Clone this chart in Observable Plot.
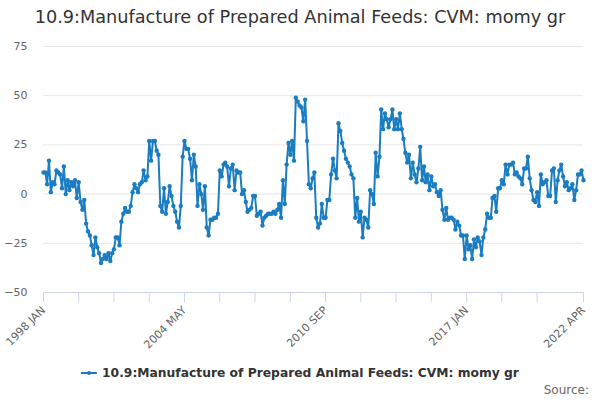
<!DOCTYPE html>
<html><head><meta charset="utf-8">
<script src="https://cdn.jsdelivr.net/npm/d3@7"></script>
<script src="https://cdn.jsdelivr.net/npm/@observablehq/plot@0.6"></script>
<style>
body{margin:0;background:#fff;font-family:"DejaVu Sans",sans-serif;}
#wrap{position:relative;width:600px;height:400px;overflow:hidden;background:#fff}
#chart{position:absolute;left:0;top:0}
#title{position:absolute;left:0;top:7px;width:600px;text-align:center;font-size:17.7px;color:#333;white-space:nowrap}
#legend{position:absolute;left:0;top:366px;width:600px;text-align:center;font-size:12.3px;font-weight:bold;color:#333;white-space:nowrap}
#legend svg{vertical-align:middle;margin-right:5px;position:relative;top:-1px}
#source{position:absolute;right:11px;top:383px;font-size:12px;color:#666}
</style></head><body>
<div id="wrap">
  <div id="chart"></div>
  <div id="title"></div>
  <div id="legend"></div>
  <div id="source">Source:</div>
</div>
<script>
const seriesName = "10.9:Manufacture of Prepared Animal Feeds: CVM: momy gr";
const lineColor = "#1a7cc1";

// monthly growth values (%), Jan 1998 – Apr 2022
const v1998 = [11, 11, 5, 17, 1, 6, 5, 12, 11, 10, 3, 14];
const v1999 = [0, 7, 2, 6, 4, 7, -2, 6, -4, -8, -3, -15];
const v2000 = [-19, -21, -26, -31, -22, -27, -30, -35, -33, -31, -33, -30];
const v2001 = [-34, -30, -28, -22, -22, -26, -14, -10, -7, -9, -9, -6];
const v2002 = [1, 5, 3, 1, 5, 6, 12, 7, 9, 27, 17, 27];
const v2003 = [27, 22, 20, -6, -9, 3, -10, -4, 4, -1, -6, -9];
const v2004 = [-14, -17, -6, 19, 27, 23, 23, 18, 7, 20, 14, -6];
const v2005 = [5, 0, -8, 4, -17, -21, -13, -13, -12, -12, -10, 12];
const v2006 = [9, 15, 16, 14, 4, 13, 15, 2, 12, 11, 11, 0];
const v2007 = [2, -4, -9, -8, -7, -1, -1, -11, -10, -9, -16, -12];
const v2008 = [-11, -10, -10, -10, -9, -10, -8, -5, -12, 7, -5, 15];
const v2009 = [26, 20, 27, 17, 49, 47, 45, 44, 37, 48, 27, 5];
const v2010 = [3, 8, 11, -12, -17, -15, -5, -12, -12, -3, -3, 10];
const v2011 = [18, 12, 8, 36, 32, 26, 22, 18, 16, 14, 10, 8];
const v2012 = [-12, -2, -14, -9, -22, -12, -13, -17, 2, 0, -5, 21];
const v2013 = [9, 19, 43, 33, 41, 38, 34, 38, 43, 33, 38, 33];
const v2014 = [41, 33, 28, 21, 16, 20, 8, 16, 10, 6, 13, 24];
const v2015 = [7, 14, 6, 10, 2, 9, 4, 5, 1, -1, 2, -8];
const v2016 = [-13, -7, -13, -12, -12, -13, -18, -14, -16, -21, -21, -33];
const v2017 = [-21, -28, -26, -33, -23, -27, -22, -24, -31, -22, -18, -10];
const v2018 = [-12, -12, -2, -1, -9, 3, 3, 7, 5, 15, 10, 15];
const v2019 = [15, 16, 10, 11, 9, 8, 5, 13, 13, 19, 8, 2];
const v2020 = [-3, -4, 1, -6, 10, 5, 6, 7, -1, -1, 12, 13];
const v2021 = [-4, 7, 12, 15, 9, 4, 6, 2, 3, 5, -3, 2];
const v2022 = [10, 10, 12, 7];

const yTicks = [-50, -25, 0, 25, 50, 75];
const xTickLabels = ["1998 JAN", "2004 MAY", "2010 SEP", "2017 JAN", "2022 APR"];
const xTickStepMonths = 19;

const values = [v1998, v1999, v2000, v2001, v2002, v2003, v2004, v2005, v2006, v2007, v2008,
  v2009, v2010, v2011, v2012, v2013, v2014, v2015, v2016, v2017, v2018, v2019, v2020, v2021, v2022].flat();
const data = values.map((v, i) => ({date: new Date(Date.UTC(1998, i, 1)), value: v}));
const first = data[0].date, last = data[data.length - 1].date;

const fmt = d => d3.utcFormat("%Y %b")(d).toUpperCase();
const tickDates = [];
for (let m = 0; m < data.length - 10; m += xTickStepMonths) tickDates.push(data[m].date);
tickDates.push(last);

const chart = Plot.plot({
  width: 600, height: 400,
  marginTop: 46, marginBottom: 108, marginLeft: 43, marginRight: 17,
  style: {fontFamily: "DejaVu Sans, sans-serif", fontSize: "11px", color: "#666", background: "transparent"},
  x: {type: "utc", domain: [first, last]},
  y: {domain: [-50, 75]},
  marks: [
    Plot.gridY(yTicks, {stroke: "#e6e6e6", strokeOpacity: 1}),
    Plot.ruleY([-50], {stroke: "#ccd6eb"}),
    Plot.axisY(yTicks, {tickSize: 0, tickPadding: 16, label: null, fill: "#666"}),
    Plot.axisX(tickDates, {tickSize: 10, stroke: "#ccd6eb", tickRotate: -45, label: null, fill: "#666",
      tickFormat: d => { const s = fmt(d); return xTickLabels.includes(s) ? s : ""; }}),
    Plot.line(data, {x: "date", y: "value", stroke: lineColor, strokeWidth: 2}),
    Plot.dot(data, {x: "date", y: "value", r: 2.2, fill: lineColor, stroke: "none"})
  ]
});
document.getElementById("chart").appendChild(chart);
document.getElementById("title").textContent = seriesName;
document.getElementById("legend").innerHTML =
  `<svg width="16" height="10"><line x1="0" x2="16" y1="5" y2="5" stroke="${lineColor}" stroke-width="2"/><circle cx="8" cy="5" r="2" fill="${lineColor}"/></svg>` +
  `<span></span>`;
document.querySelector("#legend span").textContent = seriesName;
</script>
</body></html>
